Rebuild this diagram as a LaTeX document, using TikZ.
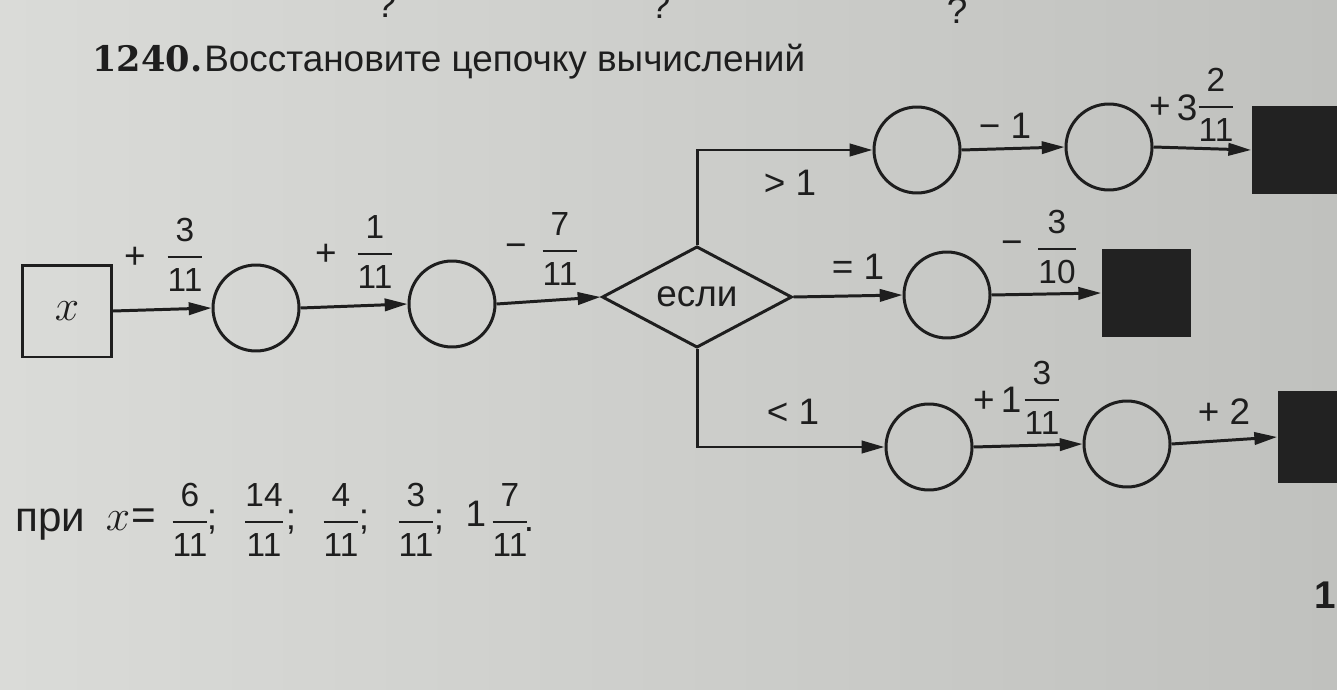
\documentclass[tikz,border=0pt]{standalone}
\usepackage{amsmath}
\usepackage{fontspec}
\setmainfont{Liberation Sans}
\newfontfamily\numfont{DejaVu Serif}
\usetikzlibrary{arrows.meta,shapes.geometric}
\definecolor{ink}{RGB}{30,30,30}
\definecolor{paperL}{RGB}{218,219,216}
\definecolor{paperR}{RGB}{192,193,190}
\definecolor{blk}{RGB}{34,34,34}
\newcommand\fr[3][19]{$\genfrac{}{}{1.2pt}{0}{\mbox{\fontsize{#1}{#1}\selectfont #2}}{\mbox{\fontsize{#1}{#1}\selectfont #3}}$}
\begin{document}
\begin{tikzpicture}[x=0.02cm,y=-0.02cm,
  wire/.style={draw=ink,line width=1.7pt},
  arr/.style={wire,-{Triangle[length=13pt,width=7pt]}},
  circ/.style={circle,draw=ink,line width=1.7pt,minimum size=1.72cm,inner sep=0pt},
  blksq/.style={rectangle,fill=blk,draw=none,minimum width=1.78cm,minimum height=1.78cm},
  lbl/.style={text=ink,font=\fontsize{21}{24}\selectfont,inner sep=0pt},
  big/.style={text=ink,font=\fontsize{24}{28}\selectfont,inner sep=0pt}]
\useasboundingbox (0,0) rectangle (1337,689);
\shade[left color=paperL,right color=paperR] (0,0) rectangle (1337,689);
% fragments cut at top and page number
\node[lbl,anchor=base] (q1) at (386,18) {?};
\node[lbl,anchor=base] (q2) at (660,19) {?};
\node[lbl,anchor=base] (q3) at (957,24) {?};
\node[text=ink,font=\fontsize{22}{24}\selectfont\bfseries,inner sep=0pt,anchor=base west] (pg) at (1314,608) {1};
% title
\node[text=ink,font=\numfont\fontsize{20}{24}\selectfont\bfseries,inner sep=0pt,anchor=base west] (num) at (92,72) {1240.};
\node[text=ink,inner sep=0pt,font=\fontsize{21}{24}\selectfont,anchor=base west] (title) at (204,72) {Восстановите цепочку вычислений};
% nodes
\node[rectangle,draw=ink,line width=1.7pt,minimum width=1.78cm,minimum height=1.84cm,text=ink,font=\fontsize{24}{28}\selectfont] (bx) at (67,311) {$x$};
\node[circ] (c1) at (256,308) {};
\node[circ] (c2) at (452,304) {};
\node[diamond,draw=ink,line width=1.7pt,minimum width=3.8cm,minimum height=1.72cm,inner sep=0pt,lbl] (d) at (697,297) {если};
\node[circ] (c3) at (917,150) {};
\node[circ] (c4) at (1109,147) {};
\node[blksq] (s1) at (1296,150) {};
\node[circ] (c5) at (947,295) {};
\node[blksq] (s2) at (1146,293) {};
\node[circ] (c6) at (929,447) {};
\node[circ] (c7) at (1127,444) {};
\node[blksq,minimum height=1.84cm] (s3) at (1322,437) {};
% connectors
\draw[arr] (bx.east) -- (c1.west);
\draw[arr] (c1.east) -- (c2.west);
\draw[arr] (c2.east) -- (d.west);
\draw[arr] (d.north) |- (c3.west);
\draw[arr] (c3.east) -- (c4.west);
\draw[arr] (c4.east) -- (s1.west);
\draw[arr] (d.east) -- (c5.west);
\draw[arr] (c5.east) -- (s2.west);
\draw[arr] (d.south) |- (c6.west);
\draw[arr] (c6.east) -- (c7.west);
\draw[arr] (c7.east) -- (s3.west);
% operation labels
\node[lbl] (p1) at (135,258) {+};
\node[lbl] (f1) at (185,255) {\fr{3}{11}};
\node[lbl] (p2) at (326,255) {+};
\node[lbl] (f2) at (375,252) {\fr{1}{11}};
\node[lbl] (m3) at (516,251) {−};
\node[lbl] (f3) at (560,249) {\fr{7}{11}};
\node[lbl] (gt) at (790,183) {> 1};
\node[lbl] (eq) at (858,267) {= 1};
\node[lbl] (lt) at (793,412) {< 1};
\node[lbl] (m1) at (1005,126) {− 1};
\node[lbl] (p4) at (1160,108) {+};
\node[lbl] (n3) at (1187,108) {3};
\node[lbl] (f4) at (1216,105) {\fr{2}{11}};
\node[lbl] (m5) at (1012,248) {−};
\node[lbl] (f5) at (1057,247) {\fr{3}{10}};
\node[lbl] (p6) at (984,402) {+};
\node[lbl] (n1) at (1011,400) {1};
\node[lbl] (f6) at (1042,398) {\fr{3}{11}};
\node[lbl] (p7) at (1224,412) {+ 2};
% values
\node[big,anchor=base west] (pri) at (15,531) {при};
\node[big] (xv) at (118,521) {$x$};
\node[big] (eqs) at (144,519) {=};
\node[lbl] (v1) at (190,520) {\fr{6}{11}};
\node[lbl] (s1a) at (212,522) {;};
\node[lbl] (v2) at (264,520) {\fr{14}{11}};
\node[lbl] (s2a) at (291,522) {;};
\node[lbl] (v3) at (341,520) {\fr{4}{11}};
\node[lbl] (s3a) at (364,522) {;};
\node[lbl] (v4) at (416,520) {\fr{3}{11}};
\node[lbl] (s4a) at (439,522) {;};
\node[lbl] (v5i) at (476,514) {1};
\node[lbl] (v5) at (510,520) {\fr{7}{11}};
\node[lbl] (dot) at (529,530) {.};
\end{tikzpicture}
\end{document}
